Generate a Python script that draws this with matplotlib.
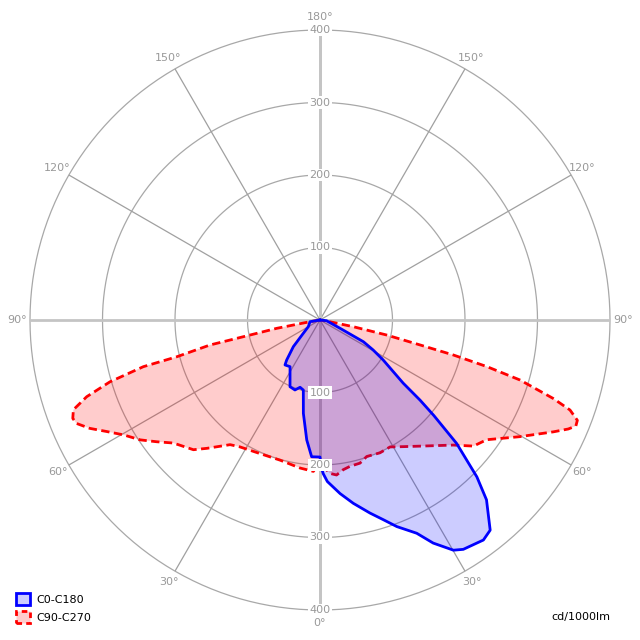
import numpy as np
import matplotlib
matplotlib.use('Agg')
import matplotlib.pyplot as plt
from matplotlib.patches import Patch

# gamma angle in degrees (0 = straight down, + = C0 / C90 side), values in cd/1000lm
c0_angles = [-90, -80.4, -60.2, -51.5, -45, -39.8, -37.9, -32.7, -24.2, -19.7, -16.5,
             -13.4, -10.1, -6.3, -3.5, 0, 0.4, 1.2, 2.6, 6.6, 10.3, 14.5, 17.6, 20.4,
             24.4, 26.9, 30.1, 32, 36.6, 39, 42.8, 45, 47.9, 50, 51.3, 52.8, 57.7,
             60.6, 63.4, 67.5, 84, 90]
c0_values = [0, 14, 18.6, 29.4, 52, 71.8, 78.6, 76.5, 100.9, 102.5, 96.8,
             99.3, 130.8, 166.5, 189, 189, 202, 212, 223, 241, 257, 275, 289, 304,
             323, 345, 367, 373, 378, 373, 338, 306, 254, 205, 177, 144, 103,
             84, 67, 30, 9, 0]

c90_angles = [-90, -80.4, -79.1, -77.7, -77.2, -75.6, -75.2, -73.6, -71.8, -70, -68.3,
              -67, -64.8, -62.4, -59.7, -56.3, -53.3, -50, -44.3, -41.4, -35.8, -32.3,
              -24.2, -15.9, -7.7, -2.5, -1.3, 0, 1.3, 3.7, 6.1, 8.8, 11.6, 15.6, 18.9,
              24.3, 28.9, 33.3, 38.4, 46.8, 50.6, 54.3, 59.7, 64.4, 66.3, 67.5, 68.7,
              70.2, 71.4, 73.3, 74.4, 75.3, 76, 77.3, 78.6, 80, 90]
c90_values = [0, 14, 60.8, 108.3, 155.6, 204, 252, 302, 338.7, 362, 367,
              365, 351, 332, 314, 298, 281, 264, 250, 236, 212, 207,
              202, 201, 206, 209, 202, 202, 202, 212, 215, 209, 206, 205, 199,
              201, 200, 209, 222, 252, 274, 283, 319, 357, 374, 382, 381,
              366.5, 339.5, 288, 238.8, 190, 142.2, 94.3, 46.9, 14, 0]

rings = [100, 200, 300, 400]
spokes = [0, 30, 60, 90, 120, 150, 180]

fig = plt.figure(figsize=(6.4, 6.4), dpi=100)
ax = fig.add_axes([30 / 640, 30 / 640, 580 / 640, 580 / 640], projection='polar')
ax.set_theta_zero_location('S')
ax.set_ylim(0, 400)
ax.set_rticks(rings)
ax.set_yticklabels([])
ax.set_xticks([])
ax.grid(False)
ax.spines['polar'].set_visible(False)

t = np.linspace(0, 2 * np.pi, 361)
for r in rings:
    ax.plot(t, [r] * len(t), color='#a8a8a8', lw=0.9, zorder=1, clip_on=False)

for a in spokes:
    for s in (1, -1):
        th = np.deg2rad(s * a)
        if a in (0, 90, 180):
            ax.plot([th, th], [0, 400], color='#c4c4c4', lw=2, zorder=1)
        else:
            ax.plot([th, th], [0, 400], color='#a0a0a0', lw=0.9, zorder=1)

# C90-C270
th90 = np.deg2rad(c90_angles)
ax.fill(th90, c90_values, color=(1, 0, 0, 0.2), lw=0, zorder=2)
ax.plot(th90, c90_values, color='red', lw=2, ls=(0, (3, 1.6)), zorder=3)

# C0-C180
th0 = np.deg2rad(c0_angles)
ax.fill(th0, c0_values, color=(0, 0, 1, 0.2), lw=0, zorder=4)
ax.plot(th0, c0_values, color='blue', lw=2, zorder=5)

# labels
for a in spokes:
    for s in (1, -1):
        if s == -1 and a in (0, 180):
            continue
        ax.text(np.deg2rad(s * a), 418, f'{a}°', ha='center', va='center',
                fontsize=8, color='#999999', clip_on=False)

for r in rings:
    for th in (0, np.pi):
        ax.text(th, r, str(r), ha='center', va='center', fontsize=8, color='#999999',
                zorder=6, bbox=dict(boxstyle='square,pad=0.1', fc='white', ec='none'))

handles = [Patch(facecolor=(0, 0, 1, 0.2), edgecolor='blue', lw=2, label='C0-C180'),
           Patch(facecolor=(1, 0, 0, 0.2), edgecolor='red', lw=2, ls=(0, (2, 1.5)),
                 label='C90-C270')]
fig.legend(handles=handles, loc='lower left', bbox_to_anchor=(16 / 640, 17 / 640),
           frameon=False, fontsize=8, handlelength=1.3, handleheight=1.3,
           handletextpad=0.55, labelspacing=0.5, borderpad=0, borderaxespad=0)
fig.text(610 / 640, 23 / 640, 'cd/1000lm', ha='right', va='center', fontsize=8)

fig.savefig('out.png', dpi=100)
